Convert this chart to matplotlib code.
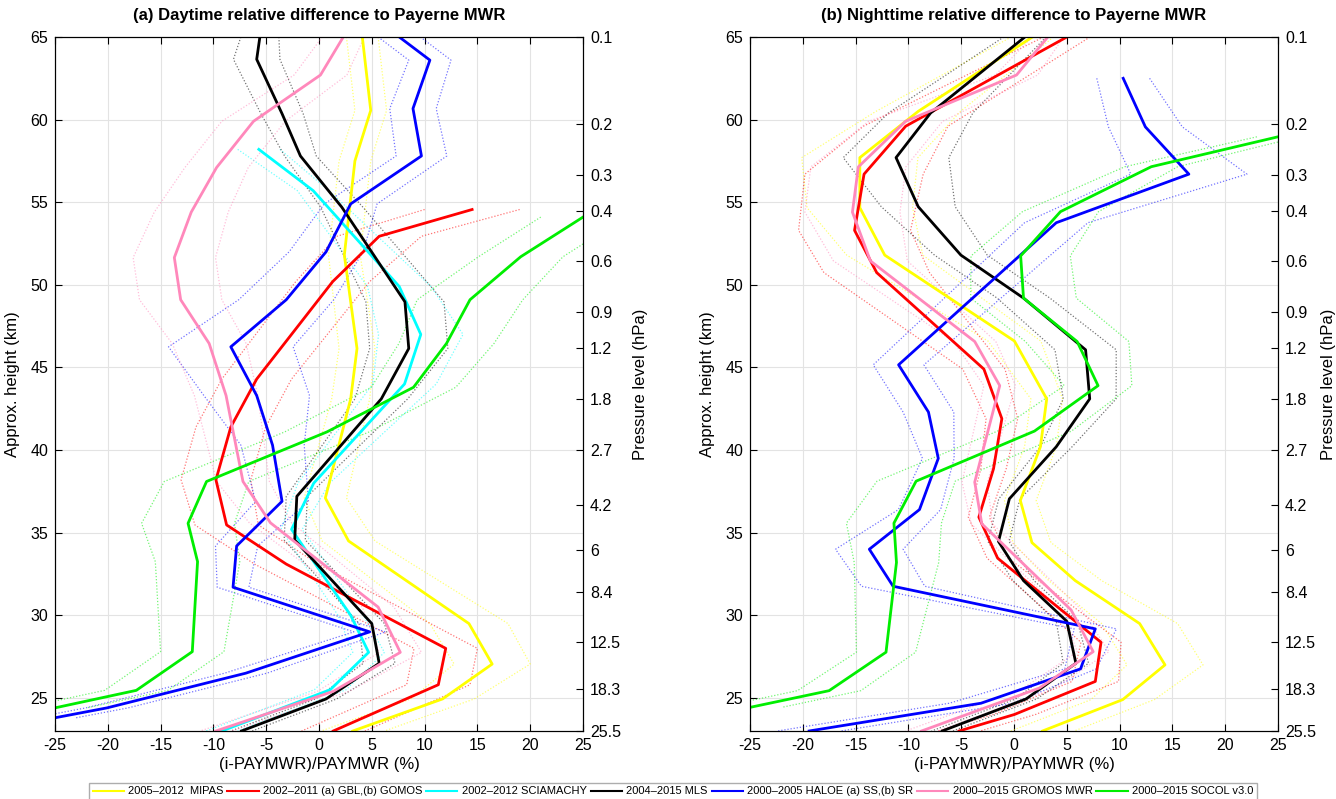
import numpy as np
import matplotlib
matplotlib.use("Agg")
import matplotlib.pyplot as plt
from matplotlib.lines import Line2D

plt.rcParams["font.family"] = ["Liberation Sans", "DejaVu Sans"]
plt.rcParams["axes.unicode_minus"] = False

# ===== data =====
# (a) daytime: heights (km), relative difference (%), half-spread (%)
day_mipas_z = [65, 60.56, 57.5, 51.8, 46.15, 43.1, 37.1, 34.5, 29.5, 27.05, 24.94, 23]
day_mipas_x = [4.1, 4.9, 3.4, 2.4, 3.6, 3.0, 0.6, 2.8, 14.2, 16.4, 11.7, 3.2]
day_mipas_s = [1.5, 1.5, 1.5, 1.5, 1.7, 1.8, 2.0, 2.5, 3.7, 3.6, 3.0, 3.0]

day_gomos_z = [54.56, 52.94, 50.2, 44.3, 41.4, 38.2, 35.47, 33.1, 28.0, 25.8, 23]
day_gomos_x = [14.5, 5.7, 1.3, -5.9, -8.35, -9.76, -8.75, -3.1, 12.0, 11.3, 1.35]
day_gomos_s = [4.5, 4.0, 3.5, 3.3, 3.3, 3.3, 3.0, 3.0, 3.0, 3.0, 3.0]

day_sciam_z = [58.2, 55.7, 49.9, 47.0, 44.0, 38.0, 35.2, 30.0, 27.76, 25.5, 23]
day_sciam_x = [-5.7, -0.55, 7.6, 9.64, 8.1, -0.5, -2.6, 3.0, 4.7, 1.07, -9.2]
day_sciam_s = [2.0, 1.5, 3.0, 4.0, 3.0, 1.5, 1.0, 1.2, 1.5, 1.5, 1.5]

day_mls_z = [65, 63.65, 60.36, 57.8, 54.7, 48.97, 46.15, 43.1, 37.2, 34.56, 29.5, 27.1, 24.94, 23]
day_mls_x = [-5.6, -5.9, -3.5, -1.76, 2.16, 8.14, 8.5, 5.9, -2.1, -2.3, 5.0, 5.7, 0.67, -7.34]
day_mls_s = [1.8, 2.2, 2.0, 1.5, 2.0, 3.7, 3.7, 2.5, 1.0, 1.0, 1.2, 1.5, 1.0, 1.0]

day_haloe_z = [65, 63.6, 60.67, 57.8, 54.9, 52.0, 49.1, 46.25, 43.3, 40.3, 36.9, 34.2, 31.7, 29.0, 26.5, 24.4, 23.8]
day_haloe_x = [7.6, 10.5, 8.9, 9.7, 3.0, 0.67, -3.1, -8.35, -5.9, -4.4, -3.5, -7.8, -8.14, 4.8, -6.93, -20.07, -25]
day_haloe_s = [2.0, 2.0, 2.2, 2.4, 2.5, 3.5, 4.5, 5.9, 5.0, 3.0, 2.5, 2.0, 1.5, 1.5, 2.0, 2.0, 2.0]

day_gromos_z = [65, 62.7, 59.9, 57.1, 54.4, 51.65, 49.1, 46.45, 43.3, 38.1, 35.6, 30.5, 27.76, 25.4, 23]
day_gromos_x = [2.3, 0.14, -6.2, -9.7, -12.1, -13.7, -13.1, -10.4, -8.8, -7.2, -4.6, 5.6, 7.7, 1.35, -9.76]
day_gromos_s = [2.0, 2.5, 3.0, 3.0, 3.5, 3.9, 3.9, 3.5, 3.0, 2.5, 2.0, 1.5, 2.0, 1.5, 1.5]

day_socol_z = [54.1, 51.7, 49.1, 46.45, 43.8, 41.1, 38.1, 35.57, 33.25, 27.8, 25.46, 24.4]
day_socol_x = [25, 19.1, 14.3, 12.07, 8.95, 0.75, -10.65, -12.4, -11.5, -12.0, -17.3, -25]
day_socol_s = [4.0, 4.0, 5.0, 4.5, 4.0, 4.0, 4.0, 4.4, 4.0, 3.0, 3.0, 3.0]

# (b) nighttime
night_mipas_z = [65, 60.5, 57.7, 54.67, 51.8, 46.6, 43.1, 40.2, 36.95, 34.4, 32.1, 29.5, 27.0, 24.9, 23]
night_mipas_x = [1.74, -9.07, -14.6, -14.6, -12.24, 0.04, 3.1, 2.5, 0.6, 1.7, 5.8, 11.9, 14.3, 10.3, 2.7]
night_mipas_s = [2.0, 4.0, 5.5, 5.0, 3.6, 2.5, 1.5, 1.5, 1.5, 1.8, 2.5, 3.6, 3.6, 3.0, 3.0]

night_gomos_z = [65, 59.6, 56.7, 53.3, 50.74, 44.9, 41.9, 38.87, 35.94, 33.46, 28.37, 26.0, 24.0, 23]
night_gomos_x = [5.0, -10.26, -14.2, -15.1, -13.0, -2.85, -1.15, -1.94, -3.33, -1.55, 8.24, 7.7, 0.04, -5.2]
night_gomos_s = [2.2, 4.0, 5.6, 5.3, 5.0, 2.0, 1.5, 1.2, 1.0, 1.0, 1.9, 2.2, 2.0, 2.0]

night_mls_z = [65, 60.4, 57.7, 54.73, 51.8, 49.2, 46.07, 43.1, 40.2, 37.05, 34.47, 32.1, 29.64, 27.1, 24.94, 23]
night_mls_x = [1.03, -7.9, -11.17, -9.07, -5.03, 0.9, 6.78, 7.17, 4.0, -0.44, -1.47, 0.9, 5.0, 5.86, 1.15, -6.8]
night_mls_s = [2.0, 4.0, 5.0, 3.5, 2.5, 2.5, 2.9, 2.5, 1.5, 1.0, 1.0, 1.0, 1.0, 1.2, 1.0, 1.0]

night_haloe_z = [62.5, 59.56, 56.7, 53.76, 45.16, 42.3, 39.5, 36.4, 34.0, 31.76, 29.18, 26.76, 24.68, 23]
night_haloe_x = [10.34, 12.44, 16.56, 4.0, -10.93, -8.1, -7.17, -8.95, -13.7, -11.45, 7.7, 6.3, -3.13, -19.4]
night_haloe_s = [2.5, 3.5, 5.5, 3.0, 2.4, 2.4, 1.5, 2.0, 3.2, 3.0, 2.0, 1.5, 3.0, 3.0]

night_gromos_z = [65, 62.7, 59.9, 57.14, 54.4, 51.45, 46.57, 43.9, 38.06, 35.54, 30.33, 27.8, 25.6, 23]
night_gromos_x = [3.2, 0.24, -10.26, -14.74, -15.3, -13.6, -3.72, -1.35, -3.72, -3.05, 5.4, 7.5, 2.4, -8.76]
night_gromos_s = [1.5, 2.0, 3.5, 4.5, 4.5, 3.5, 2.0, 1.5, 1.2, 1.0, 1.0, 1.5, 1.5, 1.5]

night_socol_z = [58.96, 57.15, 54.43, 51.75, 49.2, 46.57, 43.9, 41.15, 38.12, 35.58, 33.2, 27.77, 25.44, 24.43]
night_socol_x = [25, 13.0, 4.4, 0.63, 0.9, 5.98, 7.96, 1.94, -9.27, -11.37, -11.13, -12.12, -17.51, -25]
night_socol_s = [2.0, 2.5, 3.6, 4.7, 5.0, 4.9, 3.2, 3.5, 3.7, 4.5, 4.0, 2.8, 3.0, 3.0]

labels = ["2005\u20132012  MIPAS", "2002\u20132011 (a) GBL,(b) GOMOS", "2002\u20132012 SCIAMACHY",
          "2004\u20132015 MLS", "2000\u20132005 HALOE (a) SS,(b) SR", "2000\u20132015 GROMOS MWR",
          "2000\u20132015 SOCOL v3.0"]
colors = ["#ffff00", "#ff0000", "#00ffff", "#000000", "#0000ff", "#ff88bb", "#00ee00"]

pressure_labels = ["0.1", "0.2", "0.3", "0.4", "0.6", "0.9", "1.2", "1.8", "2.7", "4.2", "6", "8.4", "12.5", "18.3", "25.5"]

day_series = [
    (day_mipas_z, day_mipas_x, day_mipas_s, 0),
    (day_gomos_z, day_gomos_x, day_gomos_s, 1),
    (day_sciam_z, day_sciam_x, day_sciam_s, 2),
    (day_mls_z, day_mls_x, day_mls_s, 3),
    (day_haloe_z, day_haloe_x, day_haloe_s, 4),
    (day_gromos_z, day_gromos_x, day_gromos_s, 5),
    (day_socol_z, day_socol_x, day_socol_s, 6),
]
night_series = [
    (night_mipas_z, night_mipas_x, night_mipas_s, 0),
    (night_gomos_z, night_gomos_x, night_gomos_s, 1),
    (night_mls_z, night_mls_x, night_mls_s, 3),
    (night_haloe_z, night_haloe_x, night_haloe_s, 4),
    (night_gromos_z, night_gromos_x, night_gromos_s, 5),
    (night_socol_z, night_socol_x, night_socol_s, 6),
]

Z_TOP, Z_BOT = 65, 23
# log-pressure height scale matching the right axis (0.1 hPa -> 65 km, 25.5 hPa -> 23 km)
H = (Z_TOP - Z_BOT) / np.log(25.5 / 0.1)


def p_to_z(p):
    return Z_TOP - H * np.log(np.asarray(p) / 0.1)


def draw_panel(ax, series, title, plabel_x):
    for z, x, s, ci in series:
        z = np.array(z)
        x = np.array(x)
        s = np.array(s)
        for xx in (x - s, x + s):
            ax.plot(xx, z, color=colors[ci], lw=0.9, ls=(0, (1, 1.5)), alpha=0.55)
    for z, x, s, ci in series:
        ax.plot(x, z, color=colors[ci], lw=2.0)

    ax.set_xlim(-25, 25)
    ax.set_ylim(Z_BOT, Z_TOP)
    ax.set_xticks(np.arange(-25, 26, 5))
    ax.set_yticks(np.arange(25, 66, 5))
    ax.grid(True, color="#e3e3e3", lw=0.8)
    ax.set_axisbelow(True)
    ax.tick_params(axis="both", direction="in", length=5, labelsize=11.5, top=True, right=False, pad=5)
    ax.set_xlabel("(i-PAYMWR)/PAYMWR (%)", fontsize=12, labelpad=3)
    ax.set_ylabel("Approx. height (km)", fontsize=12)
    ax.yaxis.set_label_coords(-0.066, 0.5)
    ax.set_title(title, fontsize=12, fontweight="bold", pad=12)

    ax2 = ax.twinx()
    ax2.set_ylim(Z_BOT, Z_TOP)
    ax2.set_yticks(p_to_z([float(p) for p in pressure_labels]))
    ax2.set_yticklabels(pressure_labels)
    ax2.tick_params(axis="y", direction="in", length=5, labelsize=11.5, pad=5)
    ax2.set_ylabel("Pressure level (hPa)", fontsize=12)
    ax2.yaxis.set_label_coords(plabel_x, 0.5)


fig = plt.figure(figsize=(13.36, 7.99), dpi=100)
W, Hf = 1336, 799
ax_a = fig.add_axes([55 / W, 1 - 731 / Hf, 528 / W, 694 / Hf])
ax_b = fig.add_axes([750 / W, 1 - 731 / Hf, 528 / W, 694 / Hf])

draw_panel(ax_a, day_series, "(a) Daytime relative difference to Payerne MWR", 1.094)
draw_panel(ax_b, night_series, "(b) Nighttime relative difference to Payerne MWR", 1.082)

handles = [Line2D([], [], color=c, lw=1.5) for c in colors]
fig.legend(handles, labels, loc="upper center", bbox_to_anchor=(673 / W, 1 - 777 / Hf),
           ncol=7, fontsize=8, frameon=True, fancybox=False, edgecolor="#999999",
           handlelength=2.8, handletextpad=0.4, columnspacing=0.35, borderpad=0.35)

fig.savefig("out.png", dpi=100)
